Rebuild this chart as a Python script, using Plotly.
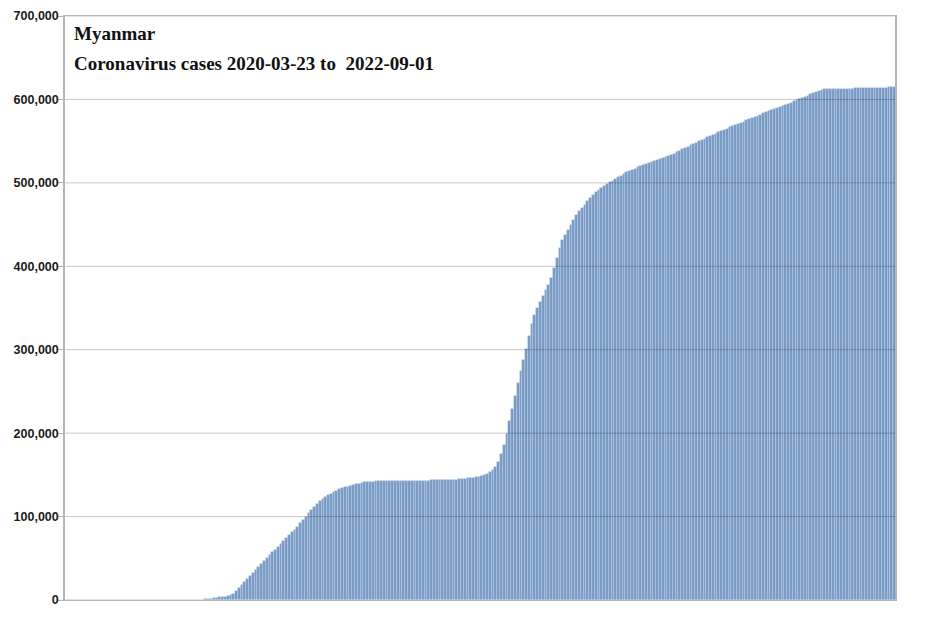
import pandas as pd
import plotly.graph_objects as go

# Cumulative confirmed cases (thousands), one value per 3-day period from 2020-03-23
start_date = "2020-03-23"
end_date = "2022-09-01"
step_days = 3
cases_thousands = [
    0.003, 0.008, 0.010, 0.015, 0.020, 0.050, 0.080, 0.110, 0.120, 0.140,
    0.150, 0.160, 0.170, 0.180, 0.180, 0.190, 0.200, 0.200, 0.210, 0.220,
    0.230, 0.240, 0.250, 0.260, 0.260, 0.270, 0.280, 0.290, 0.290, 0.300,
    0.300, 0.310, 0.320, 0.320, 0.340, 0.350, 0.350, 0.360, 0.360, 0.370,
    0.370, 0.380, 0.380, 0.390, 0.390, 0.400, 0.410, 0.450, 0.500, 0.600,
    0.9, 1.3, 1.8, 2.3, 2.9, 3.3, 3.7, 4.1, 4.6, 5.5,
    7.5, 10.5, 14, 18, 21.5, 25.5, 29, 32.5, 36, 39.5,
    43, 46.5, 50, 53.5, 57, 60.5, 64, 67, 70.5, 74,
    77.5, 81, 84.5, 88, 92, 96, 100, 104, 108, 112,
    115.5, 118.5, 121, 123.5, 125.5, 127.5, 129.5, 131, 132.5, 134,
    135, 136, 137, 137.8, 138.5, 139, 140, 141, 141.6, 141.9,
    142.0, 142.1, 142.2, 142.3, 142.4, 142.4, 142.5, 142.5, 142.6, 142.6,
    142.7, 142.7, 142.8, 142.8, 142.9, 142.9, 143.0, 143.0, 143.1, 143.1,
    143.2, 143.3, 143.3, 143.4, 143.5, 143.6, 143.7, 143.8, 144.0, 144.2,
    144.4, 144.7, 145.0, 145.3, 145.7, 146.1, 146.6, 147.2, 148.0, 149.0,
    150.2, 151.6, 153.2, 155.5, 159, 165, 175, 186, 199, 214,
    229, 244, 260, 275, 288, 301, 316, 331, 342, 350,
    357, 364, 371, 378, 386, 398, 410, 422, 431, 438,
    444, 450, 455.5, 461, 466.5, 470, 474, 478, 482, 485.5,
    488.5, 491, 493.5, 496, 498.5, 500.5, 502.5, 504.5, 506.5, 508.5,
    510.5, 512.5, 514, 515.5, 517, 518.5, 520, 521.5, 523, 524.2,
    525.4, 526.6, 527.8, 529, 530.2, 531.4, 532.6, 533.8, 535.1, 536.7,
    538.3, 540, 541.7, 543.3, 545, 546.7, 548.3, 550, 551.5, 553,
    554.5, 556, 557.5, 559, 560.5, 562, 563.5, 565, 566.5, 567.9,
    569.3, 570.7, 572.1, 573.5, 574.9, 576.3, 577.7, 579.1, 580.5, 581.9,
    583.3, 584.6, 585.9, 587.2, 588.5, 589.8, 591.1, 592.4, 593.7, 595,
    596.3, 597.6, 598.9, 600.2, 601.7, 603.2, 604.7, 606.2, 607.7, 609.2,
    610.4, 611.4, 612.1, 612.2, 612.3, 612.4, 612.5, 612.6, 612.7, 612.8,
    612.9, 613.0, 613.1, 613.2, 613.3, 613.4, 613.5, 613.6, 613.7, 613.8,
    613.9, 614.0, 614.1, 614.2, 614.3, 614.4, 614.5, 614.6,
]
y_ticks = [0, 100000, 200000, 300000, 400000, 500000, 600000, 700000]
title_line1 = "Myanmar"
title_line2 = "Coronavirus cases 2020-03-23 to \u00a02022-09-01"

dates = pd.date_range(start_date, periods=len(cases_thousands), freq=f"{step_days}D")
cases = [v * 1000 for v in cases_thousands]

day_ms = 86400000
fig = go.Figure()
fig.add_trace(go.Bar(
    x=dates, y=cases,
    width=step_days * day_ms,
    offset=0,
    marker=dict(color="#769ac4", line=dict(width=0.6, color="rgba(190,208,230,0.75)")),
    hoverinfo="x+y",
))

shapes = []
for t in y_ticks[1:]:
    shapes.append(dict(type="line", xref="paper", yref="y", x0=0, x1=1, y0=t, y1=t,
                       line=dict(color="rgba(0,0,0,0.22)", width=1), layer="above"))

end_range = pd.Timestamp(end_date) + pd.Timedelta(days=1)
fig.update_layout(
    width=918, height=620,
    margin=dict(l=57, r=31, t=8, b=28, autoexpand=False),
    paper_bgcolor="white", plot_bgcolor="white",
    showlegend=False,
    bargap=0,
    shapes=shapes,
    xaxis=dict(range=[pd.Timestamp(start_date), end_range], showticklabels=False,
               showgrid=False, zeroline=False, ticks="", automargin=False,
               showline=True, linecolor="#b5b5b5", linewidth=1, mirror=True),
    yaxis=dict(range=[0, 700000], tickvals=y_ticks, tickformat=",d",
               showgrid=False, zeroline=False, automargin=False,
               ticks="outside", ticklen=6, tickcolor="#b5b5b5", tickwidth=1,
               ticklabelstandoff=-4,
               showline=True, linecolor="#b5b5b5", linewidth=1.5, mirror=True,
               tickfont=dict(family="Liberation Sans, Arial, sans-serif", size=12.5,
                             color="#1a1a1a", weight="bold")),
    annotations=[
        dict(text=title_line1, xref="paper", yref="paper", x=0.009, y=0.97,
             xanchor="left", yanchor="middle", showarrow=False,
             font=dict(family="Liberation Serif, Times New Roman, serif", size=19,
                       color="#111", weight="bold")),
        dict(text=title_line2, xref="paper", yref="paper", x=0.009, y=0.918,
             xanchor="left", yanchor="middle", showarrow=False,
             font=dict(family="Liberation Serif, Times New Roman, serif", size=19,
                       color="#111", weight="bold")),
    ],
)

fig.write_html("out.html")
